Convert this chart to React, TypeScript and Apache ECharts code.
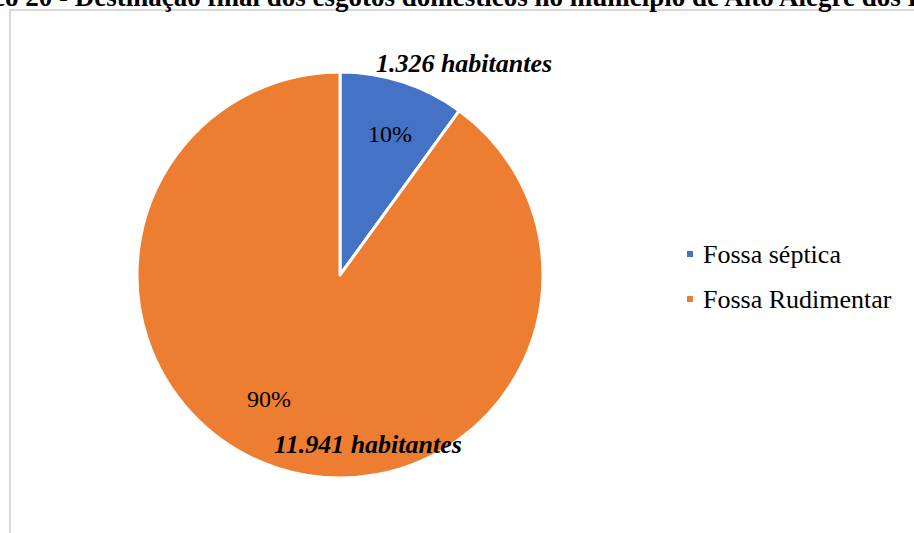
import React, { useEffect, useRef } from "react";
import * as echarts from "echarts";

const categories = ["Fossa séptica", "Fossa Rudimentar"];
const inhabitants = [1326, 11941];
const colors = ["#4472C4", "#ED7D31"];
const titleText =
  "Gráfico 20 - Destinação final dos esgotos domésticos no município de Alto Alegre dos Parecis";

const SERIF = "'Liberation Serif', 'Times New Roman', serif";

const pctPos = [
  { x: 390, y: 134 },
  { x: 269, y: 399 },
];
const habPos = [
  { x: 464, y: 63 },
  { x: 368, y: 444 },
];

const fmt = (v: number) => String(v).replace(/\B(?=(\d{3})+(?!\d))/g, ".");

export default function App() {
  const ref = useRef<HTMLDivElement>(null);
  useEffect(() => {
    if (!ref.current) return;
    const chart = echarts.init(ref.current, null, { renderer: "svg" });
    const data = categories.map((name, i) => ({
      name,
      value: inhabitants[i],
      itemStyle: { color: colors[i] },
    }));
    chart.setOption({
      animation: false,
      backgroundColor: "#ffffff",
      graphic: [
        {
          type: "rect",
          shape: { x: 10, y: 10, width: 1000, height: 1000 },
          style: { fill: "none", stroke: "#d9d9d9", lineWidth: 2 },
          z: 0,
        },
        {
          type: "text",
          x: -70,
          y: 10,
          style: {
            text: titleText,
            font: "bold 27px 'Liberation Serif'",
            fill: "#000",
            verticalAlign: "bottom",
          },
          z: 10,
        },
      ],
      legend: {
        orient: "vertical",
        left: 680,
        top: 236,
        itemWidth: 8,
        itemHeight: 8,
        itemGap: 19,
        icon: "rect",
        data: categories,
        textStyle: {
          fontFamily: SERIF,
          fontSize: 26,
          color: "#000",
          padding: [0, 0, 0, 4],
        },
      },
      series: [
        {
          type: "pie",
          center: [340, 275],
          radius: 203,
          startAngle: 90,
          clockwise: true,
          percentPrecision: 0,
          data,
          itemStyle: { borderColor: "#ffffff", borderWidth: 3 },
          label: {
            show: true,
            position: "inside",
            formatter: "{d}%",
            fontFamily: SERIF,
            fontSize: 24,
            color: "#000",
          },
          labelLayout: (p: any) => ({
            x: pctPos[p.dataIndex].x,
            y: pctPos[p.dataIndex].y,
            align: "center",
            verticalAlign: "middle",
          }),
          labelLine: { show: false },
          emphasis: { disabled: true },
        },
        {
          type: "pie",
          center: [340, 275],
          radius: 203,
          startAngle: 90,
          clockwise: true,
          silent: true,
          data: categories.map((name, i) => ({ name, value: inhabitants[i] })),
          itemStyle: { color: "transparent", borderWidth: 0 },
          label: {
            show: true,
            position: "inside",
            formatter: (p: any) => fmt(p.value) + " habitantes",
            fontFamily: SERIF,
            fontSize: 26,
            fontWeight: "bold",
            fontStyle: "italic",
            color: "#000",
          },
          labelLayout: (p: any) => ({
            x: habPos[p.dataIndex].x,
            y: habPos[p.dataIndex].y,
            align: "center",
            verticalAlign: "middle",
          }),
          labelLine: { show: false },
          emphasis: { disabled: true },
          z: 5,
        },
      ],
    });
    return () => chart.dispose();
  }, []);
  return (
    <div
      ref={ref}
      style={{ position: "fixed", left: 0, top: 0, width: 914, height: 533 }}
    />
  );
}
